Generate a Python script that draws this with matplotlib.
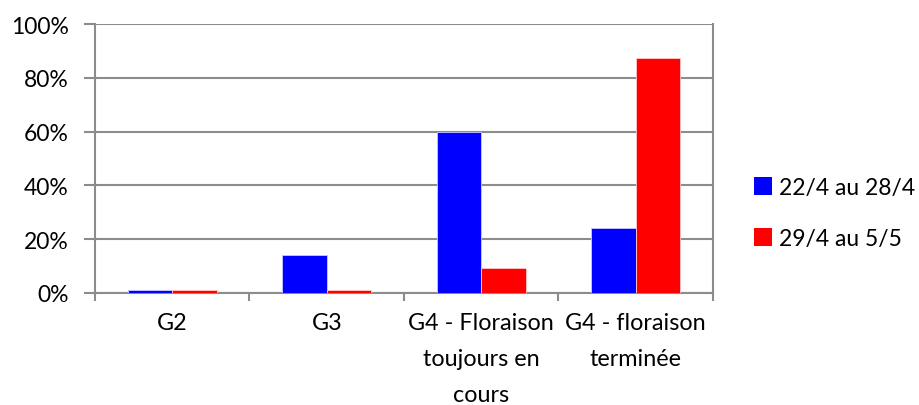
import matplotlib
matplotlib.use("Agg")
import matplotlib.pyplot as plt
import numpy as np
from matplotlib.patches import Patch

categories = ["G2", "G3", "G4 - Floraison\ntoujours en\ncours", "G4 - floraison\nterminée"]
series_names = ["22/4 au 28/4", "29/4 au 5/5"]
s1 = [0.012, 0.142, 0.597, 0.240]
s2 = [0.012, 0.012, 0.093, 0.874]
colors = ["#0000FF", "#FF0000"]

plt.rcParams['font.family'] = ['Lato', 'DejaVu Sans']
FS = 16.8

fig = plt.figure(figsize=(9.2, 4.06), dpi=100)
ax = fig.add_axes([95/920, 1-294/406, (713-95)/920, (294-25)/406])

x = np.arange(len(categories))
w = 0.287
ax.bar(x - w/2, s1, w, color=colors[0], edgecolor="#c8c8ff", linewidth=0.6, zorder=3)
ax.bar(x + w/2, s2, w, color=colors[1], edgecolor="#ffc8c8", linewidth=0.6, zorder=3)

ax.set_xlim(-0.5, len(categories) - 0.5)
ax.set_ylim(0, 1)
ax.set_yticks(np.arange(0, 1.01, 0.2))
ax.set_yticklabels([f"{int(round(v*100))}%" for v in np.arange(0, 1.01, 0.2)], fontsize=16.5)
ax.yaxis.grid(True, color="#8c8c8c", linewidth=1.5, zorder=0)
ax.set_axisbelow(True)

ax.set_xticks(np.arange(-0.5, len(categories), 1.0))
ax.set_xticklabels([])
ax.set_xticks(x, minor=True)
ax.set_xticklabels(categories, minor=True, fontsize=FS, linespacing=1.88)
ax.tick_params(axis='x', which='minor', length=0, pad=14)
ax.tick_params(axis='x', which='major', length=6, width=1.5, color="#8c8c8c", direction='out')
ax.tick_params(axis='y', which='major', length=8, width=1.5, color="#8c8c8c", direction='out', pad=11)
for side in ['left', 'bottom', 'right', 'top']:
    ax.spines[side].set_color("#8c8c8c")
    ax.spines[side].set_linewidth(1.5)
ax.spines['top'].set_visible(False)

handles = [Patch(facecolor=colors[0]), Patch(facecolor=colors[1])]
fig.legend(handles, series_names, loc='center left', bbox_to_anchor=(747/920, 1-214/406),
           frameon=False, fontsize=16.5, handlelength=0.8, handleheight=0.8,
           handletextpad=0.3, labelspacing=1.3, borderaxespad=0, borderpad=0.3)

fig.savefig("out.png", dpi=100)
